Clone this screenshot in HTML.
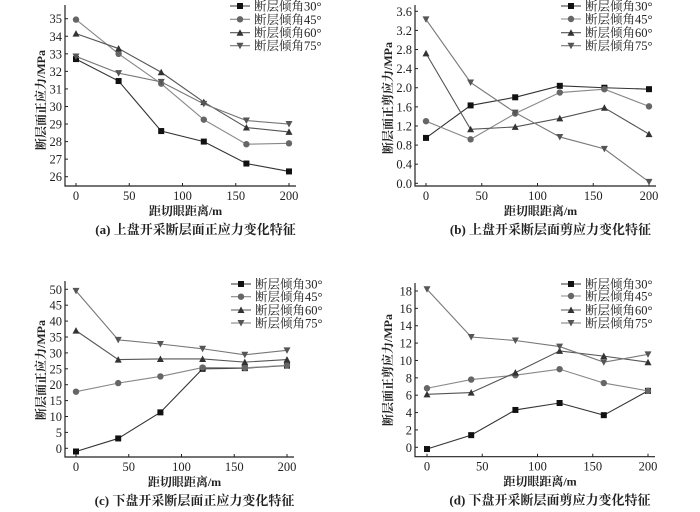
<!DOCTYPE html>
<html><head><meta charset="utf-8"><style>
body{margin:0;background:#fff}
svg{display:block}
text{font-family:"Liberation Serif","Noto Serif CJK SC",serif;fill:#222}
</style></head><body>
<svg id="c" width="700" height="512" xmlns="http://www.w3.org/2000/svg"></svg>
<script>
const xCats=[0,40,80,120,160,200];
const xTicks=[0,50,100,150,200];
const seriesNames=["断层倾角30°","断层倾角45°","断层倾角60°","断层倾角75°"];
const a30=[32.7,31.45,28.6,28.0,26.75,26.3];
const a45=[34.95,33.0,31.3,29.25,27.85,27.9];
const a60=[34.15,33.3,31.95,30.25,28.8,28.55];
const a75=[32.85,31.9,31.4,30.15,29.2,29.0];
const b30=[0.95,1.63,1.80,2.04,2.00,1.97];
const b45=[1.30,0.92,1.46,1.90,1.97,1.61];
const b60=[2.72,1.13,1.18,1.36,1.58,1.03];
const b75=[3.43,2.11,1.48,0.97,0.72,0.03];
const c30=[-1,3.1,11.3,25,25.2,26];
const c45=[17.8,20.5,22.6,25.4,25.3,26.1];
const c60=[37,27.9,28.1,28.1,27.1,27.9];
const c75=[49.5,34.1,32.8,31.3,29.4,30.8];
const d30=[-0.2,1.4,4.3,5.1,3.7,6.5];
const d45=[6.8,7.8,8.3,9.0,7.4,6.5];
const d60=[6.1,6.3,8.6,11.1,10.5,9.8];
const d75=[18.2,12.7,12.3,11.6,9.8,10.7];
const aTicks=[26,27,28,29,30,31,32,33,34,35];
const bTicks=["0.0","0.4","0.8","1.2","1.6","2.0","2.4","2.8","3.2","3.6"];
const cTicks=[0,5,10,15,20,25,30,35,40,45,50];
const dTicks=[0,2,4,6,8,10,12,14,16,18];

const NS="http://www.w3.org/2000/svg";
const svg=document.getElementById('c');
function mk(tag,attrs,parent,txt){const e=document.createElementNS(NS,tag);for(const k in attrs)e.setAttribute(k,attrs[k]);if(txt!==undefined)e.textContent=txt;(parent||svg).appendChild(e);return e;}
const colors=["#111","#666","#333","#555"];
const lineCol=["#333","#888","#555","#777"];
function marker(g,type,x,y,col){
  let m;
  if(type===0)m=mk('rect',{x:x-3,y:y-3,width:6,height:6,fill:col},g);
  else if(type===1)m=mk('circle',{cx:x,cy:y,r:3.2,fill:col},g);
  else if(type===2)m=mk('path',{d:`M${x-3.5},${y+3} L${x+3.5},${y+3} L${x},${y-3.5}Z`,fill:col},g);
  else m=mk('path',{d:`M${x-3.5},${y-3} L${x+3.5},${y-3} L${x},${y+3.5}Z`,fill:col},g);
  
  
}
function panel(o){
  const g=mk('g',{},svg);
  
  
  const X=v=>o.x0+(v-0)/(200)*(o.x200-o.x0);
  const Y=v=>o.yB+(v-o.vB)/(o.vT-o.vB)*(o.yT-o.yB);
  const ax=mk('path',{d:`M${o.L},${o.top} L${o.L},${o.bot} L${o.R},${o.bot}`,fill:'none',stroke:'#222','stroke-width':1.2},g);
  
  
  o.ticks.forEach(t=>{const y=Y(+t);mk('line',{x1:o.L,x2:o.L+3,y1:y,y2:y,stroke:'#222'},g);
    const tx=mk('text',{x:o.L-3,y:y+4.5,'text-anchor':'end','font-size':12.5},g,t);
    });
  xTicks.forEach(t=>{const x=X(t);mk('line',{x1:x,x2:x,y1:o.bot,y2:o.bot-3,stroke:'#222'},g);
    const tx=mk('text',{x:x,y:o.bot+14,'text-anchor':'middle','font-size':12.5},g,t);
    });
  const yt=mk('text',{x:0,y:0,'text-anchor':'middle','font-size':12,'font-weight':'bold',transform:`translate(${o.ytx},${o.yty}) rotate(-90)`},g,o.ytitle);
  
  const xt=mk('text',{x:(o.L+o.R)/2+5,y:o.bot+29,'text-anchor':'middle','font-size':12,'font-weight':'bold'},g,'距切眼距离/m');
  
  const cp=mk('text',{x:(o.L+o.R)/2+15,y:o.bot+48,'text-anchor':'middle','font-size':13,'font-weight':'bold'},g,o.caption);
  
  o.series.forEach((s,i)=>{
    const pts=s.map((v,j)=>X(xCats[j])+','+Y(v)).join(' ');
    const pl=mk('polyline',{points:pts,fill:'none',stroke:lineCol[i],'stroke-width':1.1},g);
    
    s.forEach((v,j)=>marker(g,i,X(xCats[j]),Y(v),colors[i]));
  });
  seriesNames.forEach((n,i)=>{
    const y=o.legY[i];
    const le=mk('g',{},g);
    
    mk('line',{x1:o.legX,x2:o.legX+20,y1:y,y2:y,stroke:lineCol[i],'stroke-width':1.1},le);
    marker(le,i,o.legX+10,y,colors[i]);
    mk('text',{x:o.legX+24,y:y+4.5,'font-size':12.5},le,n);
  });
}
panel({name:'chart-a',L:65,R:296,top:5,bot:186,x0:76,x200:289,yB:176.7,vB:26,yT:18.7,vT:35,ticks:aTicks,ytx:45,yty:100,ytitle:'断层面正应力/MPa',caption:'(a) 上盘开采断层面正应力变化特征',series:[a30,a45,a60,a75],legX:230,legY:[6,19.3,32.7,45.7]});
panel({name:'chart-b',L:415,R:656,top:5,bot:186,x0:426,x200:649,yB:183.3,vB:0,yT:11.3,vT:3.6,ticks:bTicks,ytx:392,yty:98,ytitle:'断层面正剪应力/MPa',caption:'(b) 上盘开采断层面剪应力变化特征',series:[b30,b45,b60,b75],legX:561,legY:[6,19,32.7,45.7]});
panel({name:'chart-c',L:65,R:294,top:281,bot:457,x0:76,x200:287,yB:448.3,vB:0,yT:289.3,vT:50,ticks:cTicks,ytx:45,yty:370,ytitle:'断层面正应力/MPa',caption:'(c) 下盘开采断层面正应力变化特征',series:[c30,c45,c60,c75],legX:231,legY:[284,296.7,310,323]});
panel({name:'chart-d',L:415,R:655,top:283,bot:456.7,x0:427,x200:648,yB:447.3,vB:0,yT:291,vT:18,ticks:dTicks,ytx:392,yty:370,ytitle:'断层面正剪应力/MPa',caption:'(d) 下盘开采断层面剪应力变化特征',series:[d30,d45,d60,d75],legX:561,legY:[284,296,310,323]});
</script>
</body></html>
